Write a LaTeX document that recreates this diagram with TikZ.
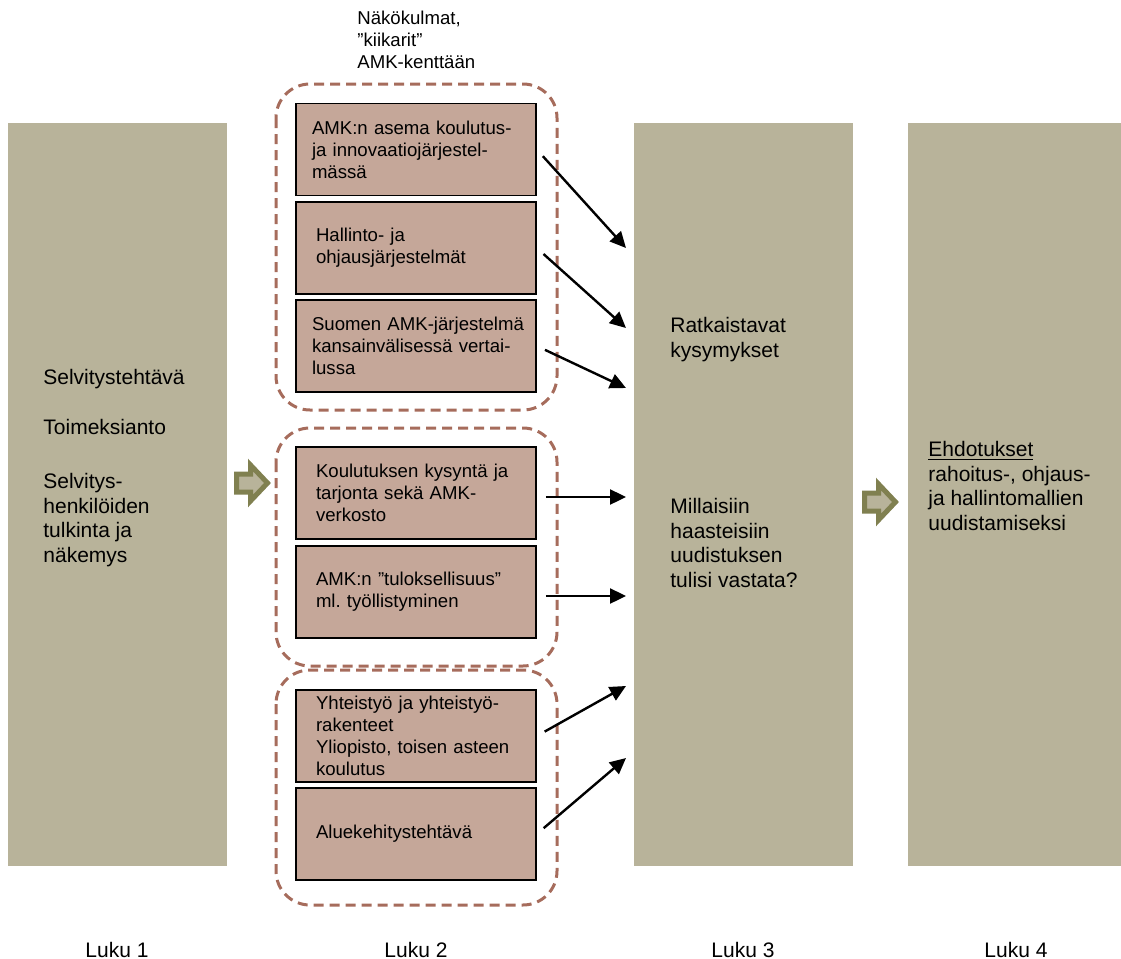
\documentclass[tikz,border=0pt]{standalone}
\usepackage{fontspec}
\setmainfont{Liberation Sans}
\usetikzlibrary{arrows.meta, positioning, calc}
\definecolor{sarake}{RGB}{184,179,154}
\definecolor{laatikko}{RGB}{197,167,153}
\definecolor{katko}{RGB}{166,108,92}
\definecolor{oliivi}{RGB}{128,128,80}
\tikzset{> = { Triangle[length = 8pt, width = 7.5pt] }}

\begin{document}
\frenchspacing
\begin{tikzpicture}[x = 0.5pt, y = -0.5pt,
		sarake/.style = { fill = sarake, minimum width = 109.5pt, minimum height = 371.5pt, inner sep = 0pt },
		kohta/.style = { draw, fill = laatikko, line width = 0.8pt, minimum width = 120pt, minimum height = 46pt, text width = 116pt, inner xsep = 2pt, inner ysep = 1pt, align = left, font = \fontsize{9.3}{11}\selectfont },
		ryhma/.style = { draw = katko, line width = 1.5pt, dash pattern = on 5pt off 3pt, rounded corners = 17pt },
		teksti/.style = { anchor = base west, inner sep = 0pt, align = left, font = \fontsize{10.5}{12.2}\selectfont },
		luku/.style = { anchor = base, inner sep = 0pt, font = \fontsize{10.5}{12.2}\selectfont },
		nuoli/.style = { ->, line width = 1.2pt, shorten < = 4.5pt },
		blokki/.style = { fill = sarake, draw = oliivi, line width = 2.5pt }]
		\useasboundingbox (0,0) rectangle (1121,959);

		\node [sarake]                           (luku1) at (117.5,494.5) {};
		\node [sarake]                           (luku3) at (743.5,494.5) {};
		\node [sarake, minimum width = 106.5pt]  (luku4) at (1014.5,494.5) {};

		\draw [ryhma] (276,84) rectangle (557,410);
		\draw [ryhma] (276,428) rectangle (557,666);
		\draw [ryhma] (276,670) rectangle (557,905);

		\node [kohta] (b1) at (416,149.5) {\hspace*{6pt}AMK:n asema koulutus-\\\hspace*{6pt}ja innovaatiojärjestel-\\\hspace*{6pt}mässä};
		\node [kohta] (b2) at (416,248) {\hspace*{8pt}Hallinto- ja\\\hspace*{8pt}ohjausjärjestelmät};
		\node [kohta] (b3) at (416,346) {\hspace*{6pt}Suomen AMK-järjestelmä\\\hspace*{6pt}kansainvälisessä vertai-\\\hspace*{6pt}lussa};
		\node [kohta] (b4) at (416,493) {\hspace*{8pt}Koulutuksen kysyntä ja\\\hspace*{8pt}tarjonta sekä AMK-\\\hspace*{8pt}verkosto};
		\node [kohta] (b5) at (416,592) {\hspace*{8pt}AMK:n ”tuloksellisuus”\\\hspace*{8pt}ml. työllistyminen};
		\node [kohta] (b6) at (416,736) {\hspace*{8pt}Yhteistyö ja yhteistyö-\\\hspace*{8pt}rakenteet\\\hspace*{8pt}Yliopisto, toisen asteen\\\hspace*{8pt}koulutus};
		\node [kohta] (b7) at (416,834) {\hspace*{8pt}Aluekehitystehtävä};

		\coordinate (k1) at (626,248);
		\coordinate (k2) at (626,328);
		\coordinate (k3) at (626,388);
		\coordinate (k4) at (626,497);
		\coordinate (k5) at (626,596);
		\coordinate (k6) at (626,686);
		\coordinate (k7) at (626,758);

		\draw [nuoli] (b1.east) -- (k1);
		\draw [nuoli] (b2.east) -- (k2);
		\draw [nuoli] (b3.east) -- (k3);
		\draw [nuoli] (b4.east |- k4) -- (k4);
		\draw [nuoli] (b5.east |- k5) -- (k5);
		\draw [nuoli] (b6.east) -- (k6);
		\draw [nuoli] (b7.east) -- (k7);

		\draw [blokki] (236.5,474) -- ++(14,0) -- ++(0,-9) -- ++(17,18) -- ++(-17,18) -- ++(0,-9) -- ++(-14,0) -- cycle;
		\draw [blokki] (864.5,493) -- ++(14,0) -- ++(0,-9) -- ++(17,18) -- ++(-17,18) -- ++(0,-9) -- ++(-14,0) -- cycle;

		\node [teksti, font = \fontsize{9.3}{11}\selectfont] (otsikko) at (357,68) {Näkökulmat,\\”kiikarit”\\AMK-kenttään};
		\node [teksti] (t1) at (43,562) {Selvitystehtävä\\[12.8pt]Toimeksianto\\[14.8pt]Selvitys-\\henkilöiden\\tulkinta ja\\näkemys};
		\node [teksti] (r1) at (670,357) {Ratkaistavat\\kysymykset};
		\node [teksti] (r2) at (670,587) {Millaisiin\\haasteisiin\\uudistuksen\\tulisi vastata?};
		\node [teksti] (e1) at (928,530) {\underline{Ehdotukset}\\rahoitus-, ohjaus-\\ja hallintomallien\\uudistamiseksi};

		\node [luku] (l1) at (117,957) {Luku 1};
		\node [luku] (l2) at (416,957) {Luku 2};
		\node [luku] (l3) at (743,957) {Luku 3};
		\node [luku] (l4) at (1016,957) {Luku 4};
	\end{tikzpicture}
\end{document}
